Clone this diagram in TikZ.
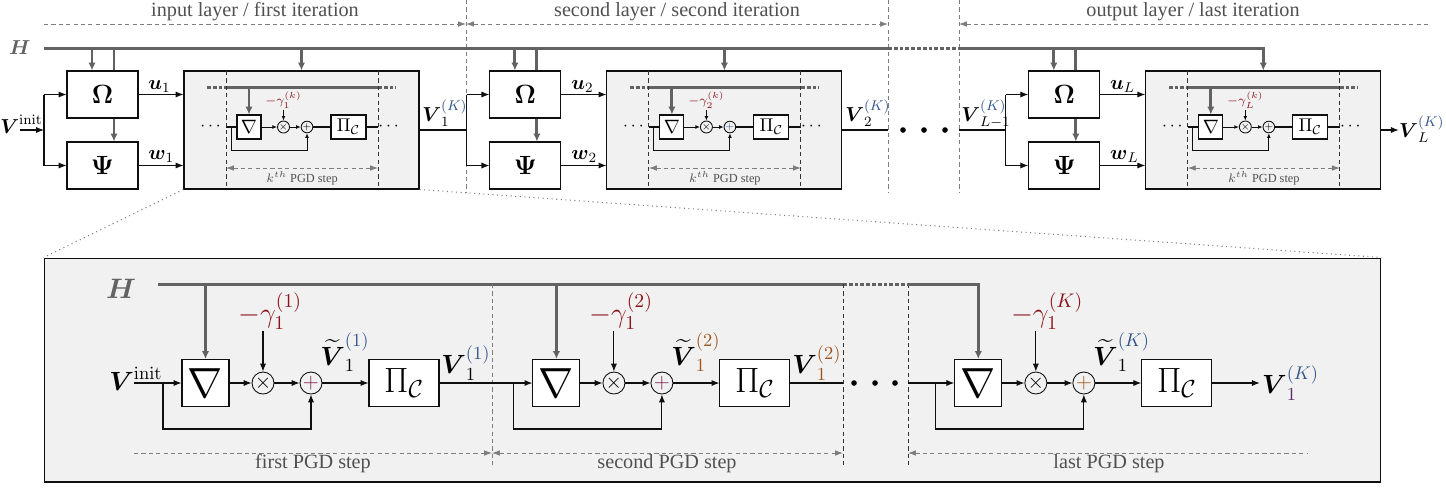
\RequirePackage{fix-cm}
\documentclass[tikz,border=0pt]{standalone}
\usepackage{amsmath,amssymb}
\usepackage[no-math]{fontspec}
\setmainfont{Liberation Serif}
\usepackage{xcolor}
\usepackage{tikz}
\usetikzlibrary{arrows.meta,calc}
\definecolor{figline}{RGB}{15,15,15}
\definecolor{figpanel}{RGB}{241,241,241}
\definecolor{figbus}{RGB}{98,98,98}
\definecolor{figdash}{RGB}{125,125,125}
\definecolor{figtext}{RGB}{80,80,80}
\definecolor{figgam}{RGB}{140,22,28}
\definecolor{figitA}{RGB}{50,85,140}
\definecolor{figitB}{RGB}{155,85,30}
\definecolor{figsub}{RGB}{95,40,110}
\definecolor{figplus}{RGB}{125,30,75}
\newcommand{\fsz}[1]{\fontsize{#1}{#1}\selectfont}
\tikzset{
  blk/.style   ={draw=figline, line width=0.6pt, fill=white, inner sep=0pt},
  pnl/.style   ={draw=figline, line width=0.6pt, fill=figpanel, inner sep=0pt},
  opc/.style   ={draw=figline, line width=0.5pt, circle, inner sep=0pt},
  wire/.style  ={draw=figline, line width=0.6pt},
  ar/.style    ={wire, -{Latex[length=4.5pt,width=3.5pt]}},
  ars/.style   ={draw=figline, line width=0.5pt, -{Latex[length=2.6pt,width=2.2pt]}},
  bus/.style   ={draw=figbus, line width=1.7pt},
  busd/.style  ={bus, dash pattern=on 2.2pt off 1.1pt},
  busar/.style ={bus, -{Latex[length=4.5pt,width=4.2pt]}},
  sepln/.style ={draw=figdash, line width=0.5pt, dash pattern=on 2.4pt off 1.8pt},
  sepdk/.style ={draw=black!80, line width=0.55pt, dash pattern=on 2.4pt off 1.8pt},
  spanln/.style={sepln, >={Latex[length=4.5pt,width=3.2pt]}},
  lens/.style  ={draw=figdash, line width=0.6pt, dotted},
  hdr/.style   ={font=\fsz{11.5}, text=figtext, inner sep=0pt},
  kst/.style   ={font=\fsz{7}, text=figtext, inner sep=0pt},
  hlab/.style  ={font=\fsz{11.5}, text=figbus, inner sep=0pt},
  hbig/.style  ={font=\fsz{16}, text=figbus, inner sep=0pt},
  mlab/.style  ={font=\fsz{11.5}, inner sep=0pt},
  blab/.style  ={font=\fsz{15}, inner sep=0pt},
  glab/.style  ={font=\fsz{7}, text=figgam, inner sep=0.5pt},
  gbig/.style  ={font=\fsz{16}, text=figgam, inner sep=0.5pt},
  dts/.style   ={font=\fsz{10}, inner sep=0pt},
  omg/.style   ={blk, minimum width=1.42cm, minimum height=0.94cm, font=\fsz{15}},
  layb/.style  ={pnl, minimum width=4.7cm, minimum height=2.36cm},
  gsm/.style   ={blk, minimum width=0.48cm, minimum height=0.48cm, font=\fsz{11}},
  psm/.style   ={blk, minimum width=0.7cm, minimum height=0.48cm, font=\fsz{10.5}},
  csm/.style   ={opc, minimum size=0.21cm, font=\fsz{5}},
  gbg/.style   ={blk, minimum width=0.94cm, minimum height=0.94cm, font=\fsz{24}},
  pbg/.style   ={blk, minimum width=1.4cm, minimum height=0.94cm, font=\fsz{20}},
  cbg/.style   ={opc, minimum size=0.44cm, font=\fsz{12}},
}

\begin{document}
\begin{tikzpicture}[x=0.02cm, y=-0.02cm]
  \useasboundingbox (0,0) rectangle (1446,488);
  % headers and layer separators
  \node[hdr] (tl1) at (255,12) {input layer / first iteration};
  \node[hdr] (tl2) at (677,12) {second layer / second iteration};
  \node[hdr] (tlL) at (1193,12) {output layer / last iteration};
  \draw[sepln] (466,0) -- (466,192);
  \draw[sepln] (888,0) -- (888,192);
  \draw[sepln] (959,0) -- (959,192);
  \draw[spanln,->] (44,24) -- (466,24);
  \draw[spanln,<->] (466,24) -- (888,24);
  \draw[spanln,<-] (959,24) -- (1430,24);
  % channel
  \node[hlab] (H) at (20,48) {$\boldsymbol{H}$};
  \coordinate (hb0) at (44,48);
  \coordinate (hb1) at (888,48);
  \coordinate (hb2) at (959,48);
  \draw[bus] (hb0) -- (hb1);
  \draw[busd] (hb1) -- (hb2);
  % layer 1
  \node[omg] (om1) at (102.5,94.5) {$\boldsymbol{\Omega}$};
  \node[omg] (ps1) at (102.5,165.5) {$\boldsymbol{\Psi}$};
  \node[layb] (bb1) at (301.5,130) {};
  \node[mlab,anchor=base west] (vin) at (0,133) {$\boldsymbol{V}^{\mathrm{init}}$};
  \coordinate (vi1) at (20,130);
  \coordinate (sp1) at (44,130);
  \coordinate (hd1) at (92,48);
  \coordinate (hp1) at (114,48);
  \draw[ar] (vi1) -- (sp1);
  \draw[wire] (sp1 |- om1) -- (sp1 |- ps1);
  \draw[ar] (sp1 |- om1) -- (om1);
  \draw[ar] (sp1 |- ps1) -- (ps1);
  \draw[busar] (hd1) -- (hd1 |- om1.north);
  \draw[bus] (hp1) -- (hp1 |- om1.north);
  \draw[busar] (hp1 |- om1.south) -- (hp1 |- ps1.north);
  \draw[busar] (bb1.north |- hb0) -- (bb1);
  \draw[ar] (om1) -- (om1 -| bb1.west);
  \draw[ar] (ps1) -- (ps1 -| bb1.west);
  \node[mlab,anchor=base west] (u1) at (148,89) {$\boldsymbol{u}_1$};
  \node[mlab,anchor=base west] (w1) at (148,159) {$\boldsymbol{w}_1$};
  \node[gsm] (gr1) at (249,127) {$\nabla$};
  \node[csm] (mu1) at (283.5,127) {$\times$};
  \node[csm] (ad1) at (307,127) {$+$};
  \node[psm] (pj1) at (348.5,127) {$\Pi_{\mathcal{C}}$};
  \node[dts] (dl1) at (212,127) {$\cdots$};
  \node[dts] (dr1) at (390,127) {$\cdots$};
  \node[glab] (ga1) at (283.5,100) {$-\gamma_1^{(k)}$};
  \coordinate (il1) at (226,127);
  \coordinate (ir1) at (378,127);
  \coordinate (tf1) at (231,127);
  \draw[wire] (il1) -- (gr1);
  \draw[ars] (gr1) -- (mu1);
  \draw[ars] (mu1) -- (ad1);
  \draw[wire] (ad1) -- (pj1);
  \draw[wire] (pj1) -- (ir1);
  \draw[ars] (tf1) -- ++(0,23) -| (ad1);
  \draw[ars] (mu1.north |- ga1.south) -- (mu1);
  \draw[busd] (207,87) -- (226,87);
  \draw[bus] (226,87) -- (378,87);
  \draw[busd] (378,87) -- (396,87);
  \draw[busar] (gr1.north |- 0,87) -- (gr1);
  \draw[sepdk] (226,71) -- (226,189);
  \draw[sepdk] (378,71) -- (378,189);
  \draw[spanln,<->] (226,168) -- (378,168);
  \node[kst] (ks1) at (302,178) {$k^{th}$ PGD step};
  \node[mlab,anchor=base west] (vk1) at (422,121) {$\boldsymbol{V}_1^{\textcolor{figitA}{(K)}}$};
  % layer 2
  \begin{scope}[xshift=8.46cm]
  \node[omg] (om2) at (102.5,94.5) {$\boldsymbol{\Omega}$};
  \node[omg] (ps2) at (102.5,165.5) {$\boldsymbol{\Psi}$};
  \node[layb] (bb2) at (301.5,130) {};
  \coordinate (sp2) at (44,130);
  \coordinate (hd2) at (92,48);
  \coordinate (hp2) at (114,48);
  \draw[wire] (sp2 |- om2) -- (sp2 |- ps2);
  \draw[ar] (sp2 |- om2) -- (om2);
  \draw[ar] (sp2 |- ps2) -- (ps2);
  \draw[busar] (hd2) -- (hd2 |- om2.north);
  \draw[bus] (hp2) -- (hp2 |- om2.north);
  \draw[busar] (hp2 |- om2.south) -- (hp2 |- ps2.north);
  \draw[busar] (bb2.north |- hb0) -- (bb2);
  \draw[ar] (om2) -- (om2 -| bb2.west);
  \draw[ar] (ps2) -- (ps2 -| bb2.west);
  \node[mlab,anchor=base west] (u2) at (148,89) {$\boldsymbol{u}_2$};
  \node[mlab,anchor=base west] (w2) at (148,159) {$\boldsymbol{w}_2$};
  \node[gsm] (gr2) at (249,127) {$\nabla$};
  \node[csm] (mu2) at (283.5,127) {$\times$};
  \node[csm] (ad2) at (307,127) {$\textcolor{figitA}{+}$};
  \node[psm] (pj2) at (348.5,127) {$\Pi_{\mathcal{C}}$};
  \node[dts] (dl2) at (212,127) {$\cdots$};
  \node[dts] (dr2) at (390,127) {$\cdots$};
  \node[glab] (ga2) at (283.5,100) {$-\gamma_2^{(k)}$};
  \coordinate (il2) at (226,127);
  \coordinate (ir2) at (378,127);
  \coordinate (tf2) at (231,127);
  \draw[wire] (il2) -- (gr2);
  \draw[ars] (gr2) -- (mu2);
  \draw[ars] (mu2) -- (ad2);
  \draw[wire] (ad2) -- (pj2);
  \draw[wire] (pj2) -- (ir2);
  \draw[ars] (tf2) -- ++(0,23) -| (ad2);
  \draw[ars] (mu2.north |- ga2.south) -- (mu2);
  \draw[busd] (207,87) -- (226,87);
  \draw[bus] (226,87) -- (378,87);
  \draw[busd] (378,87) -- (396,87);
  \draw[busar] (gr2.north |- 0,87) -- (gr2);
  \draw[sepdk] (226,71) -- (226,189);
  \draw[sepdk] (378,71) -- (378,189);
  \draw[spanln,<->] (226,168) -- (378,168);
  \node[kst] (ks2) at (302,178) {$k^{th}$ PGD step};
  \node[mlab,anchor=base west] (vk2) at (422,121) {$\boldsymbol{V}_2^{\textcolor{figitA}{(K)}}$};
  \end{scope}
  % layer L
  \begin{scope}[xshift=19.24cm]
  \node[omg] (omL) at (102.5,94.5) {$\boldsymbol{\Omega}$};
  \node[omg] (psL) at (102.5,165.5) {$\boldsymbol{\Psi}$};
  \node[layb] (bbL) at (301.5,130) {};
  \coordinate (spL) at (44,130);
  \coordinate (hdL) at (92,48);
  \coordinate (hpL) at (114,48);
  \draw[wire] (spL |- omL) -- (spL |- psL);
  \draw[ar] (spL |- omL) -- (omL);
  \draw[ar] (spL |- psL) -- (psL);
  \draw[busar] (hdL) -- (hdL |- omL.north);
  \draw[bus] (hpL) -- (hpL |- omL.north);
  \draw[busar] (hpL |- omL.south) -- (hpL |- psL.north);
  \draw[busar] (hb2) -| (bbL);
  \draw[ar] (omL) -- (omL -| bbL.west);
  \draw[ar] (psL) -- (psL -| bbL.west);
  \node[mlab,anchor=base west] (uL) at (148,89) {$\boldsymbol{u}_L$};
  \node[mlab,anchor=base west] (wL) at (148,159) {$\boldsymbol{w}_L$};
  \node[gsm] (grL) at (249,127) {$\nabla$};
  \node[csm] (muL) at (283.5,127) {$\times$};
  \node[csm] (adL) at (307,127) {$+$};
  \node[psm] (pjL) at (348.5,127) {$\Pi_{\mathcal{C}}$};
  \node[dts] (dlL) at (212,127) {$\cdots$};
  \node[dts] (drL) at (390,127) {$\cdots$};
  \node[glab] (gaL) at (283.5,100) {$-\gamma_L^{(k)}$};
  \coordinate (ilL) at (226,127);
  \coordinate (irL) at (378,127);
  \coordinate (tfL) at (231,127);
  \draw[wire] (ilL) -- (grL);
  \draw[ars] (grL) -- (muL);
  \draw[ars] (muL) -- (adL);
  \draw[wire] (adL) -- (pjL);
  \draw[wire] (pjL) -- (irL);
  \draw[ars] (tfL) -- ++(0,23) -| (adL);
  \draw[ars] (muL.north |- gaL.south) -- (muL);
  \draw[busd] (207,87) -- (226,87);
  \draw[bus] (226,87) -- (378,87);
  \draw[busd] (378,87) -- (396,87);
  \draw[busar] (grL.north |- 0,87) -- (grL);
  \draw[sepdk] (226,71) -- (226,189);
  \draw[sepdk] (378,71) -- (378,189);
  \draw[spanln,<->] (226,168) -- (378,168);
  \node[kst] (ksL) at (302,178) {$k^{th}$ PGD step};
  \coordinate (voL) at (437,130);
  \node[mlab,anchor=base west] (vkL) at (437,137) {$\boldsymbol{V}_L^{\textcolor{figitA}{(K)}}$};
  \end{scope}
  % links between layers
  \coordinate (gap2) at (888,130);
  \coordinate (gap3) at (959,130);
  \node[mlab,anchor=base west] (vkm) at (961,121) {$\boldsymbol{V}_{L-1}^{\textcolor{figitA}{(K)}}$};
  \draw[wire] (bb1) -- (sp2);
  \draw[wire] (bb2) -- (gap2);
  \draw[wire] (gap3) -- (spL);
  \draw[ar] (bbL) -- (voL);
  \fill (903,130) circle (1.6pt);
  \fill (924,130) circle (1.6pt);
  \fill (945,130) circle (1.6pt);
  % zoomed view of the first layer
  \node[pnl, minimum width=26.74cm, minimum height=4.48cm] (zm) at (712.5,370) {};
  \draw[lens] (bb1.south west) -- (zm.north west);
  \draw[lens] (bb1.south east) -- (zm.north east);
  \node[hbig] (Hb) at (121,289) {$\boldsymbol{H}$};
  \coordinate (hc0) at (158,284);
  \coordinate (hc1) at (843,284);
  \coordinate (hc2) at (908,284);
  \draw[bus] (hc0) -- (hc1);
  \draw[busd] (hc1) -- (hc2);
  \draw[sepln] (492,284) -- (492,465);
  \draw[sepdk] (843,284) -- (843,465);
  \draw[sepdk] (908,284) -- (908,465);
  \draw[spanln,->] (134,453) -- (492,453);
  \draw[spanln,<->] (492,453) -- (843,453);
  \draw[spanln,<-] (908,453) -- (1308,453);
  \node[hdr] (sA) at (313,464) {first PGD step};
  \node[hdr] (sB) at (667,464) {second PGD step};
  \node[hdr] (sK) at (1109,464) {last PGD step};
  % first step
  \node[gbg] (gA) at (205.5,383) {$\nabla$};
  \node[cbg] (mA) at (263,383) {$\times$};
  \node[cbg] (aA) at (311,383) {$\textcolor{figplus}{+}$};
  \node[pbg] (pA) at (404,383) {$\Pi_{\mathcal{C}}$};
  \node[gbig,anchor=base west] (gmA) at (237,322) {$-\gamma_1^{(1)}$};
  \node[blab,anchor=base west] (vib) at (109,390) {$\boldsymbol{V}^{\mathrm{init}}$};
  \node[blab,anchor=base west] (vtA) at (320,365) {$\widetilde{\boldsymbol{V}}_1^{\textcolor{figitA}{(1)}}$};
  \node[blab,anchor=base west] (vpA) at (441,373) {$\boldsymbol{V}_1^{\textcolor{figitA}{(1)}}$};
  \coordinate (vbA) at (134,383);
  \coordinate (bfA) at (163,383);
  \draw[ar] (vbA) -- (gA);
  \draw[ar] (bfA) -- ++(0,46) -| (aA);
  \draw[ar] (gA) -- (mA);
  \draw[ar] (mA) -- (aA);
  \draw[ar] (aA) -- (pA);
  \draw[ar] (mA.north |- gmA.south) -- (mA);
  \draw[busar] (gA.north |- hc0) -- (gA);
  % second step
  \begin{scope}[xshift=7.02cm]
  \node[gbg] (gB) at (205.5,383) {$\nabla$};
  \node[cbg] (mB) at (263,383) {$\times$};
  \node[cbg] (aB) at (311,383) {$\textcolor{figplus}{+}$};
  \node[pbg] (pB) at (404,383) {$\Pi_{\mathcal{C}}$};
  \node[gbig,anchor=base west] (gmB) at (237,322) {$-\gamma_1^{(2)}$};
  \node[blab,anchor=base west] (vtB) at (320,365) {$\widetilde{\boldsymbol{V}}_{\textcolor{figitB}{1}}^{\textcolor{figitB}{(2)}}$};
  \node[blab,anchor=base west] (vpB) at (441,373) {$\boldsymbol{V}_{\textcolor{figitB}{1}}^{\textcolor{figitB}{(2)}}$};
  \coordinate (bfB) at (163,383);
  \draw[ar] (bfB) -- ++(0,46) -| (aB);
  \draw[ar] (gB) -- (mB);
  \draw[ar] (mB) -- (aB);
  \draw[ar] (aB) -- (pB);
  \draw[ar] (mB.north |- gmB.south) -- (mB);
  \draw[busar] (gB.north |- hc0) -- (gB);
  \end{scope}
  % last step
  \begin{scope}[xshift=15.46cm]
  \node[gbg] (gK) at (205.5,383) {$\nabla$};
  \node[cbg] (mK) at (263,383) {$\times$};
  \node[cbg] (aK) at (311,383) {$\textcolor{figitB}{+}$};
  \node[pbg] (pK) at (404,383) {$\Pi_{\mathcal{C}}$};
  \node[gbig,anchor=base west] (gmK) at (237,322) {$-\gamma_1^{(K)}$};
  \node[blab,anchor=base west] (vtK) at (320,365) {$\widetilde{\boldsymbol{V}}_1^{\textcolor{figitA}{(K)}}$};
  \coordinate (bfK) at (163,383);
  \coordinate (voK) at (487,383);
  \node[blab,anchor=base west] (vpK) at (489,393) {$\boldsymbol{V}_{\textcolor{figsub}{1}}^{\textcolor{figitA}{(K)}}$};
  \draw[ar] (bfK) -- ++(0,46) -| (aK);
  \draw[ar] (gK) -- (mK);
  \draw[ar] (mK) -- (aK);
  \draw[ar] (aK) -- (pK);
  \draw[ar] (pK) -- (voK);
  \draw[ar] (mK.north |- gmK.south) -- (mK);
  \draw[busar] (hc2) -| (gK);
  \end{scope}
  % links between steps
  \coordinate (dkA) at (843,383);
  \coordinate (dkB) at (908,383);
  \draw[ar] (pA) -- (gB);
  \draw[wire] (pB) -- (dkA);
  \draw[ar] (dkB) -- (gK);
  \fill (854,383) circle (1.6pt);
  \fill (875,383) circle (1.6pt);
  \fill (895,383) circle (1.6pt);
\end{tikzpicture}
\end{document}
